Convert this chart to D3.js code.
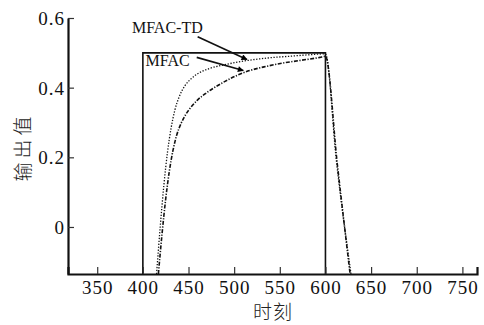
<!DOCTYPE html>
<html>
<head>
<meta charset="utf-8">
<script src="https://cdn.jsdelivr.net/npm/d3@7"></script>
<style>
  body { margin: 0; background: #fff; }
  .serif { font-family: "Liberation Serif", "Times New Roman", serif; }
  .cjk { font-family: "Noto Sans CJK SC", sans-serif; font-weight: 300; }
</style>
</head>
<body>
<div id="chart"></div>
<script>
// data
const xTicks = [350, 400, 450, 500, 550, 600, 650, 700, 750];
const yTicks = [0, 0.2, 0.4, 0.6];

// reference: square pulse (low part lies under the axis and gets clipped)
const refX = [318, 400, 400, 600, 600, 766];
const refY = [-0.2, -0.2, 0.5, 0.5, -0.2, -0.2];

// MFAC-TD (dotted)
const tdX = [415, 419, 423, 427, 431, 435, 440, 446, 453, 462, 474, 490, 505, 520, 540, 560, 580, 600, 612, 628];
const tdY = [-0.135, 0.0, 0.12, 0.215, 0.285, 0.335, 0.375, 0.405, 0.426, 0.443, 0.456, 0.466, 0.474, 0.48, 0.486, 0.49, 0.494, 0.497, 0.19, -0.135];

// MFAC (dash-dot)
const mfX = [417, 421, 425, 429, 433, 437, 442, 447, 453, 460, 468, 477, 490, 503, 517, 535, 552, 572, 594, 600, 613, 627];
const mfY = [-0.135, -0.02, 0.08, 0.16, 0.22, 0.263, 0.298, 0.323, 0.345, 0.365, 0.382, 0.398, 0.418, 0.435, 0.449, 0.461, 0.47, 0.478, 0.487, 0.49, 0.18, -0.135];

// annotations, data units
const labels = [
  { text: 'MFAC-TD', x: 388, y: 0.557, from: [460, 0.546], to: [514, 0.481] },
  { text: 'MFAC', x: 403, y: 0.463, from: [459, 0.487], to: [510, 0.449] },
];

const width = 484, height = 325;
const margin = { left: 68, top: 18, right: 7, bottom: 51 };

const x = d3.scaleLinear().domain([318, 766]).range([margin.left, width - margin.right]);
const y = d3.scaleLinear().domain([-0.135, 0.6]).range([height - margin.bottom, margin.top]);

const svg = d3.select('#chart').append('svg')
  .attr('width', width)
  .attr('height', height);

const defs = svg.append('defs');
defs.append('clipPath').attr('id', 'plotClip')
  .append('rect')
  .attr('x', margin.left)
  .attr('y', margin.top - 5)
  .attr('width', width - margin.left - margin.right)
  .attr('height', height - margin.bottom - margin.top + 5);

defs.append('marker')
  .attr('id', 'head')
  .attr('viewBox', '0 0 10 10')
  .attr('refX', 9).attr('refY', 5)
  .attr('markerWidth', 7).attr('markerHeight', 6)
  .attr('markerUnits', 'userSpaceOnUse')
  .attr('orient', 'auto')
  .append('path')
  .attr('d', 'M0,0 L10,5 L0,10 z')
  .attr('fill', '#000');

const zip = (xs, ys) => xs.map((v, i) => [v, ys[i]]);
const line = d3.line().x((d) => x(d[0])).y((d) => y(d[1]));
const curve = d3.line().x((d) => x(d[0])).y((d) => y(d[1])).curve(d3.curveMonotoneX);

const plots = svg.append('g').attr('clip-path', 'url(#plotClip)');

plots.append('path')
  .attr('d', line(zip(refX, refY)))
  .attr('fill', 'none')
  .attr('stroke', '#111')
  .attr('stroke-width', 1.6);

plots.append('path')
  .attr('d', curve(zip(tdX, tdY)))
  .attr('fill', 'none')
  .attr('stroke', '#111')
  .attr('stroke-width', 1.3)
  .attr('stroke-dasharray', '1.3,1.6');

plots.append('path')
  .attr('d', curve(zip(mfX, mfY)))
  .attr('fill', 'none')
  .attr('stroke', '#111')
  .attr('stroke-width', 1.6)
  .attr('stroke-dasharray', '4,1.5,1.2,1.5');

// axes, ticks point inwards
const xAxis = d3.axisBottom(x)
  .tickValues(xTicks)
  .tickSize(-7)
  .tickSizeOuter(-7)
  .tickPadding(6)
  .tickFormat(d3.format('d'));

const yAxis = d3.axisLeft(y)
  .tickValues(yTicks)
  .tickSize(-6)
  .tickSizeOuter(0)
  .tickPadding(3)
  .tickFormat((d) => (d === 0 ? '0' : d3.format('.1f')(d)));

const gx = svg.append('g')
  .attr('transform', `translate(0,${height - margin.bottom})`)
  .call(xAxis);

const gy = svg.append('g')
  .attr('transform', `translate(${margin.left},0)`)
  .call(yAxis);

[gx, gy].forEach((g) => {
  g.attr('font-family', null).attr('font-size', null).attr('class', 'serif');
  g.select('.domain').attr('stroke', '#111').attr('stroke-width', 2.2);
  g.selectAll('.tick line').attr('stroke', '#333').attr('stroke-width', 1.2);
  g.selectAll('.tick text')
    .style('font-size', '19px')
    .style('letter-spacing', '1px')
    .attr('fill', '#111');
});
gx.selectAll('.tick text').attr('dy', '0.75em');
gy.selectAll('.tick text').attr('dy', '0.35em');

// axis titles
svg.append('text')
  .attr('class', 'cjk')
  .attr('x', 273)
  .attr('y', 319)
  .attr('text-anchor', 'middle')
  .style('font-size', '19px')
  .style('letter-spacing', '1px')
  .attr('fill', '#222')
  .text('时刻');

svg.append('text')
  .attr('class', 'cjk')
  .attr('transform', 'translate(30,147) rotate(-90)')
  .attr('text-anchor', 'middle')
  .style('font-size', '19px')
  .style('letter-spacing', '4px')
  .attr('fill', '#222')
  .text('输出值');

// curve labels with arrows
labels.forEach((l) => {
  svg.append('text')
    .attr('class', 'serif')
    .attr('x', x(l.x))
    .attr('y', y(l.y))
    .style('font-size', '16px')
    .attr('fill', '#111')
    .text(l.text);

  svg.append('line')
    .attr('x1', x(l.from[0])).attr('y1', y(l.from[1]))
    .attr('x2', x(l.to[0])).attr('y2', y(l.to[1]))
    .attr('stroke', '#111')
    .attr('stroke-width', 1.6)
    .attr('marker-end', 'url(#head)');
});
</script>
</body>
</html>
